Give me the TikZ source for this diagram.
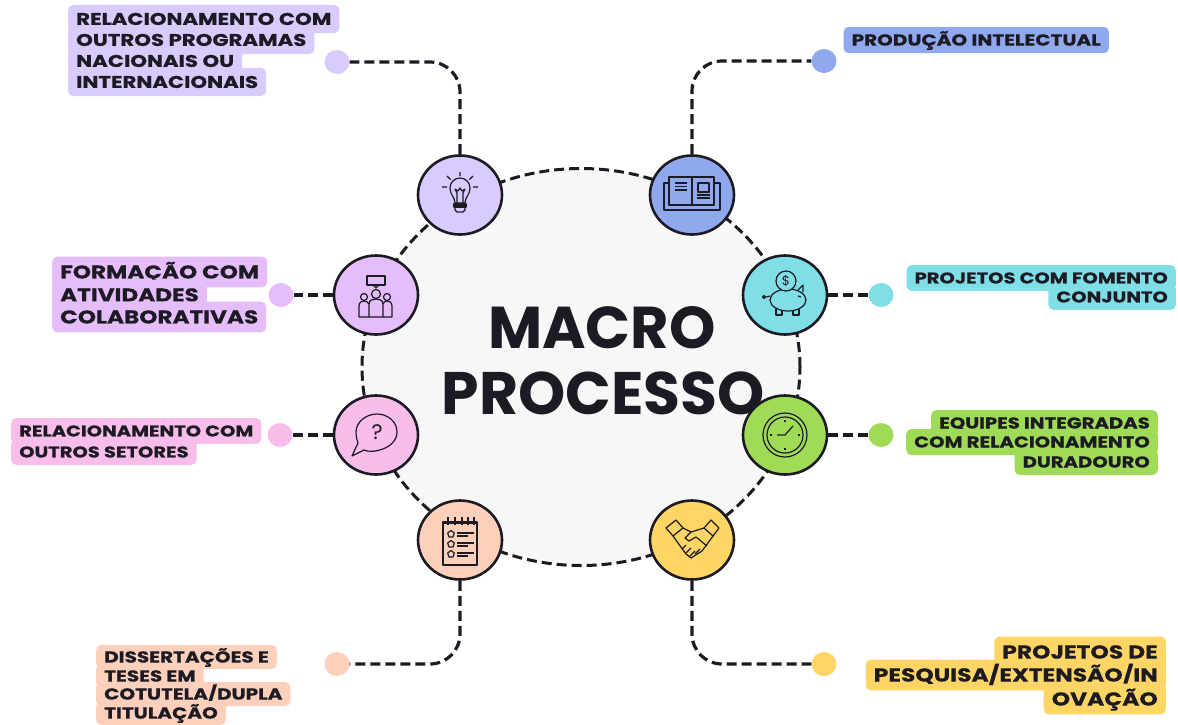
\documentclass[tikz,border=0pt]{standalone}
\usepackage{fontspec}
\setmainfont{Poppins}[FakeStretch=1.25,BoldFeatures={FakeBold=0.5}]
\newfontfamily\titulofont{Poppins}
\usetikzlibrary{shapes.geometric}
\definecolor{tinta}{HTML}{1C1A22}
\definecolor{fundo}{HTML}{F7F7F7}
\definecolor{lilas}{HTML}{D9CBFD}
\definecolor{roxo}{HTML}{E6BDFB}
\definecolor{rosa}{HTML}{F9BDEB}
\definecolor{pessego}{HTML}{FDD0BB}
\definecolor{azul}{HTML}{8FA8EE}
\definecolor{ciano}{HTML}{80DEE6}
\definecolor{verde}{HTML}{A0DB58}
\definecolor{amarelo}{HTML}{FFD566}
\tikzset{
  bola/.style={ellipse,draw=tinta,line width=2.6pt,fill=#1,minimum width=84,minimum height=79,inner sep=0},
  ponto/.style={ellipse,fill=#1,minimum width=25,minimum height=24,inner sep=0},
  ligacao/.style={draw=tinta,line width=3.2pt,dash pattern=on 10pt off 5pt,rounded corners=30pt},
  linha/.style={fill=#1,text=tinta,rounded corners=5pt,inner xsep=8pt,inner ysep=0pt,text depth=0pt},
  tam/.style={font=\bfseries\fontsize{#1}{#1}\selectfont,text height=#1*0.7pt,minimum height=#1*1.65pt},
  icone/.style={draw=tinta,line width=1.2pt,line join=round}
}
\begin{document}
\begin{tikzpicture}[x=1pt,y=-1pt]
\useasboundingbox (0,0) rectangle (1178,724);
\node (centro) [ellipse,draw=tinta,fill=fundo,line width=3pt,dash pattern=on 10pt off 5pt,minimum width=438,minimum height=397,inner sep=0] at (581,367) {};
\node (titulo1) [font=\titulofont\bfseries\fontsize{59}{59}\selectfont,text=tinta] at (602,328) {MACRO};
\node (titulo2) [font=\titulofont\bfseries\fontsize{60}{60}\selectfont,text=tinta] at (603,393) {PROCESSO};

% bolas
\node (lampada) [bola=lilas] at (460,195) {};
\node (pessoas) [bola=roxo] at (376,295) {};
\node (duvida) [bola=rosa] at (376,435) {};
\node (caderno) [bola=pessego] at (460,540) {};
\node (livro) [bola=azul] at (692,195) {};
\node (porco) [bola=ciano] at (785,295) {};
\node (relogio) [bola=verde] at (785,435) {};
\node (aperto) [bola=amarelo] at (692,540) {};

% pontos
\node (p1) [ponto=lilas] at (337,62) {};
\node (p2) [ponto=roxo] at (281,295) {};
\node (p3) [ponto=rosa] at (280,435) {};
\node (p4) [ponto=pessego] at (337,664) {};
\node (p5) [ponto=azul] at (824,61) {};
\node (p6) [ponto=ciano] at (881,295) {};
\node (p7) [ponto=verde] at (881,435) {};
\node (p8) [ponto=amarelo] at (824,664) {};

\draw [ligacao] (lampada.north) |- (p1.east);
\draw [ligacao] (pessoas.west) -- (p2.east);
\draw [ligacao] (duvida.west) -- (p3.east);
\draw [ligacao] (caderno.south) |- (p4.east);
\draw [ligacao] (livro.north) |- (p5.west);
\draw [ligacao] (porco.east) -- (p6.west);
\draw [ligacao] (relogio.east) -- (p7.west);
\draw [ligacao] (aperto.south) |- (p8.west);

% rotulos, uma linha de cada vez
\foreach \i/\y/\txt in {1/19/RELACIONAMENTO COM,2/40/OUTROS PROGRAMAS,3/61/NACIONAIS OU,4/82/INTERNACIONAIS}
  \node (a\i) [linha=lilas,tam=17,anchor=west] at (68,\y) {\txt};
\foreach \i/\y/\txt in {1/272/FORMAÇÃO COM,2/295/ATIVIDADES,3/317/COLABORATIVAS}
  \node (b\i) [linha=roxo,tam=18.5,anchor=west] at (52,\y) {\txt};
\foreach \i/\y/\txt in {1/431/RELACIONAMENTO COM,2/452/OUTROS SETORES}
  \node (c\i) [linha=rosa,tam=15.6,anchor=west] at (11,\y) {\txt};
\foreach \i/\y/\txt in {1/657/DISSERTAÇÕES E,2/676/TESES EM,3/694/{COTUTELA/DUPLA},4/713/TITULAÇÃO}
  \node (d\i) [linha=pessego,tam=16,minimum height=24pt,anchor=west] at (96,\y) {\txt};
\node (e1) [linha=azul,tam=16,anchor=east] at (1109,40) {PRODUÇÃO INTELECTUAL};
\foreach \i/\y/\txt in {1/278/PROJETOS COM FOMENTO,2/297/CONJUNTO}
  \node (f\i) [linha=ciano,tam=15.6,anchor=east] at (1176,\y) {\txt};
\foreach \i/\y/\txt in {1/423/EQUIPES INTEGRADAS,2/442/COM RELACIONAMENTO,3/462/DURADOURO}
  \node (g\i) [linha=verde,tam=15.7,anchor=east] at (1158,\y) {\txt};
\foreach \i/\y/\txt in {1/652/PROJETOS DE,2/675/{PESQUISA/EXTENSÃO/IN},3/699/OVAÇÃO}
  \node (h\i) [linha=amarelo,tam=18.7,anchor=east] at (1166,\y) {\txt};

% lampada
\begin{scope}[shift={(460,195)},icone]
  \draw (-5,8) .. controls (-5,2) and (-10,0) .. (-10,-7) .. controls (-10,-13) and (-5,-17) .. (0,-17) .. controls (5,-17) and (10,-13) .. (10,-7) .. controls (10,0) and (5,2) .. (5,8) -- cycle;
  \draw (-3,8) -- (-3,-2) -- (-5,-6) -- (-2,-4) -- (0,-7) -- (2,-4) -- (5,-6) -- (3,-2) -- (3,8);
  \draw [fill=tinta] (-6,9) rectangle (6,12);
  \draw (-5,12) -- (-5,15) -- (-3,17) -- (3,17) -- (5,15) -- (5,12);
  \draw (0,-23) -- (0,-19) (-13,-19) -- (-9.5,-15.5) (13,-19) -- (9.5,-15.5) (-18,-8) -- (-13,-8) (18,-8) -- (13,-8);
\end{scope}

% pessoas
\begin{scope}[shift={(376,295)},icone]
  \draw (-9,-19) rectangle (9,-10);
  \draw (-3,-10) -- (0,-7) -- (3,-10);
  \draw (0,-1) circle (4.5) (-12,2) circle (3.5) (11,2) circle (3.5);
  \draw (-7,22) -- (-7,9) .. controls (-7,5) and (-3,4) .. (0,4) .. controls (3,4) and (7,5) .. (7,9) -- (7,22) -- cycle;
  \draw (-7,22) -- (-17,22) -- (-17,11) .. controls (-17,7) and (-14,6) .. (-12,6) .. controls (-10,6) and (-8,7) .. (-7,9);
  \draw (7,22) -- (16,22) -- (16,11) .. controls (16,7) and (13,6) .. (11,6) .. controls (9,6) and (8,7) .. (7,9);
\end{scope}

% duvida
\begin{scope}[shift={(376,435)},icone]
  \draw (-12,15) .. controls (-5,19) and (21,14) .. (21,-3) .. controls (21,-14) and (11,-21) .. (1,-21) .. controls (-10,-21) and (-20,-13) .. (-20,-3) .. controls (-20,1) and (-19,5) .. (-18,8) -- (-24,21) -- cycle;
  \node (interroga) [draw=none,text=tinta,font=\titulofont\fontsize{21}{21}\selectfont] at (1,-3) {?};
\end{scope}

% caderno
\begin{scope}[shift={(460,540)},icone]
  \draw (-17,-18) rectangle (17,25);
  \foreach \x in {-12,-5,2,8,14}
    \draw (\x,-23) -- (\x,-15);
  \draw (-17,-17) -- (17,-17);
  \foreach \y in {-6,4,14}{
    \draw [shift={(-9,\y)}] (0,-3.5) -- (3.3,-1) -- (2,3) -- (-2,3) -- (-3.3,-1) -- cycle;
    \draw (-3,\y-1) -- (14,\y-1);
    \draw (-3,\y+2) -- (8,\y+2);
  }
\end{scope}

% livro
\begin{scope}[shift={(692,195)},icone]
  \draw (-23,-12) -- (-28,-12) -- (-28,15) -- (28,15) -- (28,-12) -- (22,-12);
  \draw (0,10) -- (-23,10) -- (-23,-18) -- (0,-18) -- (22,-18) -- (22,10) -- cycle;
  \draw (0,-18) -- (0,10);
  \draw (-17,-12) -- (-5,-12) (-17,-8.5) -- (-5,-8.5) (-17,-5) -- (-5,-5);
  \draw (6,-12) rectangle (17,-3);
  \draw (5,0) -- (18,0) (5,3) -- (18,3);
\end{scope}

% porco
\begin{scope}[shift={(785,295)},icone]
  \draw (3,5) ellipse (18 and 11);
  \draw (-9,14) -- (-9,20) -- (-3,20) -- (-3,16) (8,16) -- (8,20) -- (14,20) -- (14,14);
  \draw (13,-5) -- (18,-10) -- (18,-3);
  \draw (-15,1) -- (-19,2);
  \draw (-21,2) circle (1.5);
  \draw (13,1) -- (16,2);
  \draw [fill=ciano] (1,-14) circle (10);
  \node (cifrao) [draw=none,text=tinta,font=\titulofont\fontsize{13}{13}\selectfont] at (1,-14) {\$};
\end{scope}

% relogio
\begin{scope}[shift={(785,435)},icone]
  \draw (0,0) circle (22) (0,0) circle (18);
  \draw (-8,0) -- (0,0) -- (8,-9);
  \draw (0,-15) -- (0,-13) (0,15) -- (0,13) (-15,0) -- (-13,0) (15,0) -- (13,0);
\end{scope}

% aperto de mao
\begin{scope}[shift={(692,540)},icone]
  \draw (-26,-12) -- (-16,-20) -- (-9,-12) -- (-19,-4) -- cycle;
  \draw (12,-12) -- (19,-20) -- (27,-12) -- (21,-4) -- cycle;
  \draw (-19,-4) -- (-6,14) -- (-1,18) -- (10,11) -- (21,-4);
  \draw (-9,-12) -- (-1,-8) -- (12,-12);
  \draw (-1,-8) -- (-7,-2) -- (-3,1) -- (4,-3) -- (15,6);
  \draw (-10,9) -- (-6,5) (-6,13) -- (-1,8) (-2,16) -- (3,11) (3,14) -- (8,9);
\end{scope}
\end{tikzpicture}
\end{document}
